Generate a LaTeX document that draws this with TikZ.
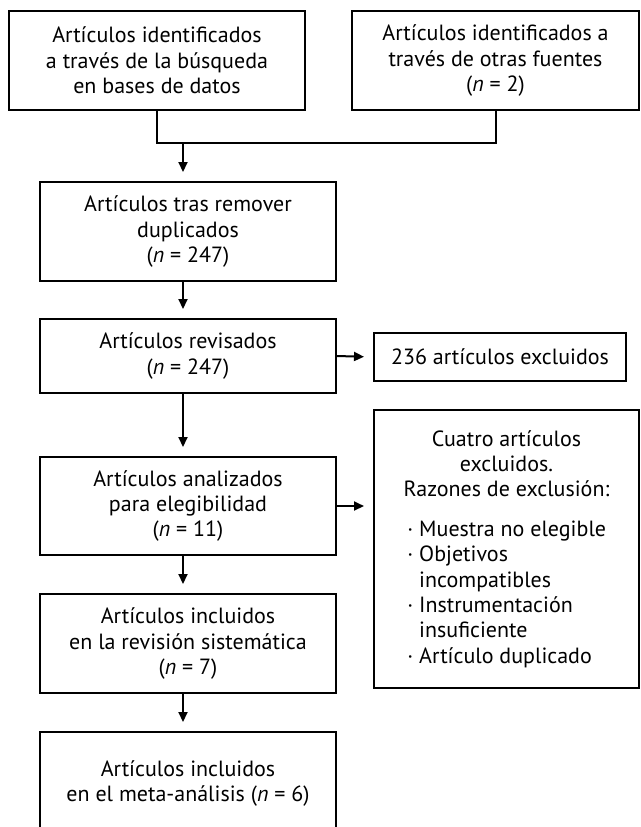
\documentclass[tikz,border=0pt]{standalone}
\usepackage{fontspec}
\setmainfont{PT Sans}
\usetikzlibrary{positioning,arrows.meta}

\begin{document}
\begin{tikzpicture}[
  x=0.5pt, y=-0.5pt,
  box/.style={draw, line width=1pt, align=center, inner sep=0pt,
    font=\fontsize{11}{12.7}\selectfont},
  link/.style={line width=1pt},
  arr/.style={line width=1pt, -{Triangle[length=5pt,width=4.5pt]}, shorten >=4.5pt},
]
  \useasboundingbox (0,0) rectangle (641,827);

  % --- Identification ---
  \node[box, minimum width=148pt, minimum height=49.5pt] (srcdb) at (157,60.5)
    {Artículos identificados\\ a través de la búsqueda\\ en bases de datos};
  \node[box, minimum width=143.5pt, minimum height=49.5pt] (srcother) at (495.5,60.5)
    {Artículos identificados a\\ través de otras fuentes\\ (\textit{n} = 2)};
  \coordinate (merge) at (183,143);
  \draw[link] (srcdb.south) |- (merge) -| (srcother.south);

  % --- Screening ---
  \node[box, minimum width=148pt, minimum height=49.5pt] (dedup) at (188,231.5)
    {Artículos tras remover\\ duplicados\\ (\textit{n} = 247)};
  \node[box, minimum width=148pt, minimum height=37pt] (screened) at (188,356)
    {Artículos revisados\\ (\textit{n} = 247)};
  \node[box, minimum width=126pt, minimum height=24pt] (excl) at (500,357)
    {236 artículos excluidos};

  % --- Eligibility ---
  \node[box, minimum width=148pt, minimum height=49pt] (eligible) at (188,506)
    {Artículos analizados\\ para elegibilidad\\ (\textit{n} = 11)};
  \node[box, minimum width=132.5pt, minimum height=139pt] (reasons) at (506.5,549)
    {\parbox{108pt}{\centering Cuatro artículos\\ excluidos.\\ Razones de exclusión:\par
     \vspace{7pt}\raggedright\leftskip=4.5pt
     · Muestra no elegible\\
     · Objetivos\\
     \phantom{· }incompatibles\\
     · Instrumentación\\
     \phantom{· }insuficiente\\
     · Artículo duplicado}};

  % --- Included ---
  \node[box, minimum width=148pt, minimum height=49.5pt] (included) at (188,643.5)
    {Artículos incluidos\\ en la revisión sistemática\\ (\textit{n} = 7)};
  \node[box, minimum width=148pt, minimum height=51.5pt] (meta) at (188,783.5)
    {Artículos incluidos\\ en el meta-análisis (\textit{n} = 6)};

  % --- Arrows ---
  \draw[arr] (merge) -- (merge |- dedup.north);
  \draw[arr] (dedup.south -| merge) -- (screened.north -| merge);
  \draw[arr] (screened.east) -- (excl.west);
  \draw[arr] (screened.south -| merge) -- (eligible.north -| merge);
  \draw[arr] (eligible.east) -- (eligible.east -| reasons.west);
  \draw[arr] (eligible.south -| merge) -- (included.north -| merge);
  \draw[arr] (included.south -| merge) -- (meta.north -| merge);
\end{tikzpicture}
\end{document}
